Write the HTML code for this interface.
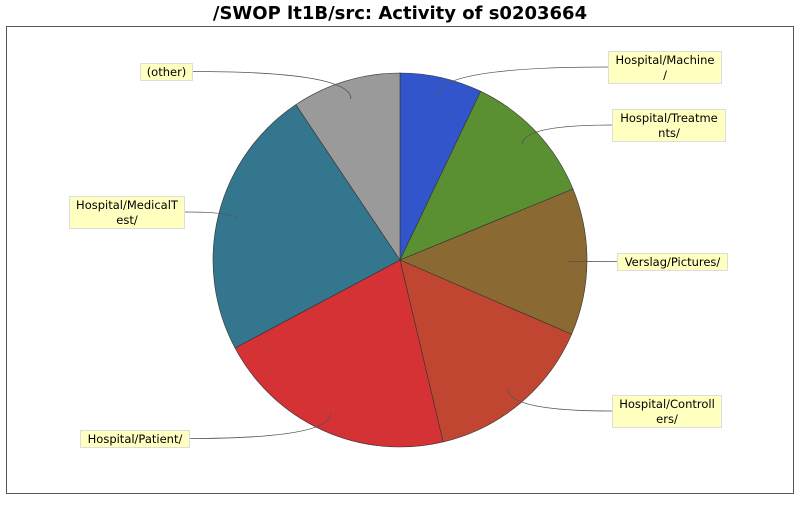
<!DOCTYPE html>
<html><head><meta charset="utf-8"><style>
body{margin:0;background:#fff;}
svg text{font-family:"DejaVu Sans","Liberation Sans",sans-serif;}
</style></head><body>
<svg id="chart" width="800" height="500">
<text x="400" y="19" text-anchor="middle" font-size="18" font-weight="bold">/SWOP lt1B/src: Activity of s0203664</text>
<rect x="6.5" y="26.5" width="787" height="467" fill="#fff" stroke="#555"/>
<g id="slices"></g><g id="labels"></g>
</svg>
<script>
const categories=["Hospital/Machine/","Hospital/Treatments/","Verslag/Pictures/","Hospital/Controllers/","Hospital/Patient/","Hospital/MedicalTest/","(other)"];
const values=[7.1,11.7,12.7,14.8,20.9,23.4,9.4];
const colors=["#3355cc","#5a9032","#8a6a32","#c04632","#d43234","#33768e","#9a9a9a"];
const labelLines=[["Hospital/Machine","/"],["Hospital/Treatme","nts/"],["Verslag/Pictures/"],["Hospital/Controll","ers/"],["Hospital/Patient/"],["Hospital/MedicalT","est/"],["(other)"]];
const labelBoxes=[[608,51,113],[612,109,113],[617,253,110],[612,395,109],[80,430,109],[69,196,115],[140,63,52]];
const cx=400,cy=260,R=187,NS="http://www.w3.org/2000/svg";
const total=values.reduce((a,b)=>a+b,0);
const sg=document.getElementById('slices'),lg=document.getElementById('labels');
function pt(a,r){return [cx+r*Math.sin(a),cy-r*Math.cos(a)];}
let acc=0;
values.forEach((v,i)=>{
 const a0=acc/total*2*Math.PI;acc+=v;const a1=acc/total*2*Math.PI;
 const p0=pt(a0,R),p1=pt(a1,R);
 const p=document.createElementNS(NS,'path');
 p.setAttribute('d',`M${cx},${cy}L${p0[0]},${p0[1]}A${R},${R} 0 ${a1-a0>Math.PI?1:0} 1 ${p1[0]},${p1[1]}Z`);
 p.setAttribute('fill',colors[i]);p.setAttribute('stroke','#333');p.setAttribute('stroke-width','0.6');
 
 
 sg.appendChild(p);
 const am=(a0+a1)/2,an=pt(am,R*0.9);
 const b=labelBoxes[i],h=labelLines[i].length*15+2;
 const right=b[0]>cx;const lx=right?b[0]:b[0]+b[2],ly=b[1]+h/2;
 const l=document.createElementNS(NS,'path');
 l.setAttribute('d',`M${lx},${ly}Q${an[0]},${ly} ${an[0]},${an[1]}`);
 l.setAttribute('fill','none');l.setAttribute('stroke','#555');l.setAttribute('stroke-width','0.8');
 
 
 lg.appendChild(l);
 const r=document.createElementNS(NS,'rect');
 r.setAttribute('x',b[0]+0.5);r.setAttribute('y',b[1]+0.5);r.setAttribute('width',b[2]);r.setAttribute('height',h);
 r.setAttribute('fill','#ffffc0');r.setAttribute('stroke','#ddd');
 
 
 lg.appendChild(r);
 labelLines[i].forEach((s,k)=>{
  const t=document.createElementNS(NS,'text');
  t.setAttribute('x',b[0]+b[2]/2+0.5);t.setAttribute('y',b[1]+13+k*15);
  t.setAttribute('text-anchor','middle');t.setAttribute('font-size','11.5');
  t.textContent=s;
  
  
  lg.appendChild(t);
 });
});
</script>
</body></html>
